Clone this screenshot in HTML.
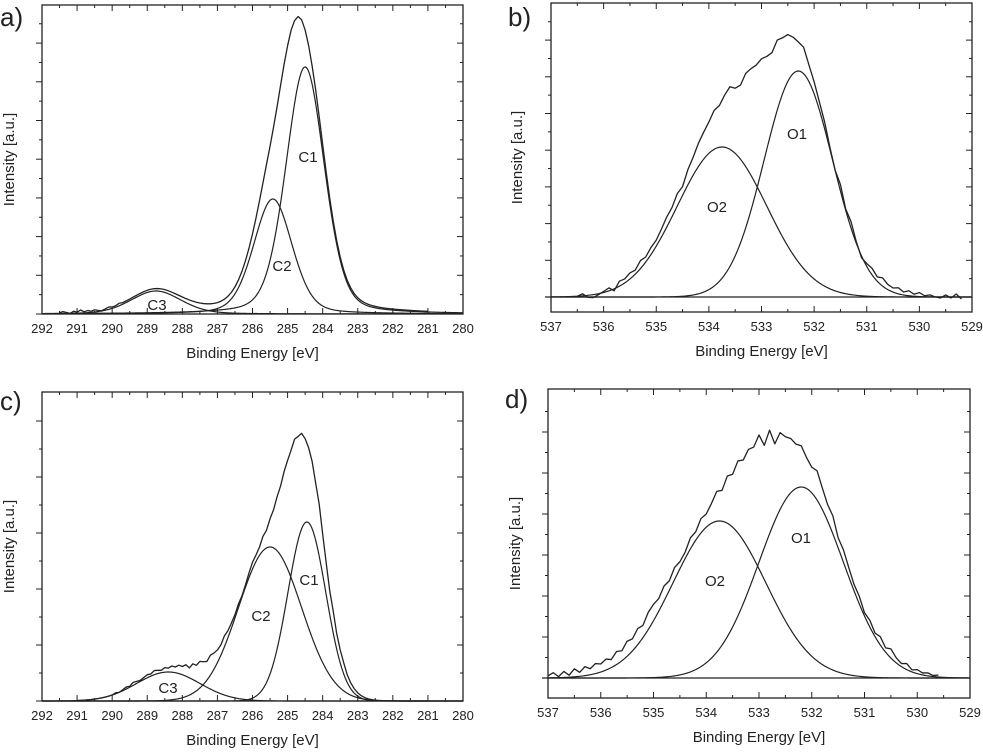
<!DOCTYPE html>
<html><head><meta charset="utf-8">
<style>
html,body{margin:0;padding:0;background:#fff;}
svg{display:block;font-family:"Liberation Sans",sans-serif;}
</style></head>
<body>
<svg id="fig" width="983" height="752" viewBox="0 0 983 752" xmlns="http://www.w3.org/2000/svg"></svg>
<script>
// ---- Panel a (C1s) ----
const aCenters = [284.5, 285.42, 288.75];
const aHeights = [247, 115, 23];
const aSigmas  = [0.55, 0.55, 0.72];
const aLabels  = ["C1","C2","C3"];
const aResid = [0,1,0,-1,1,0,2,0,1,0, 1,0,-1,0,1,0,0,1,0,0, 0,0,0,0,0,0,0,0,0,0,
  0,0,0,0,0,0,0,0,0,0, 0,0,0,0,0,0,0,0,0,0, 0,0,0,0,0,0,0,0,0,0,
  0,2,6,12,18,22,24,22,18,12, 6,2,0,0,0,0,0,0,0,0, 0,0,0,0,0,0,0,0,0,0,
  0,0,0,0,0,0,0,0,0,0, 0,0,0,0,0,0];
// ---- Panel b (O1s) ----
const bCenters = [532.3, 533.75];
const bHeights = [226, 150];
const bSigmas  = [0.65, 0.85];
const bLabels  = ["O1","O2"];
const bResid = [0,2,-2,-3,-1,1,3,-2,5,4, 6,4,8,5,7,6,8,10,9,12, 8,14,16,20,22,24,28,26,30,32,
  24,20,24,20,14,10,2,-4,0,-4, -4,-6,-6,-2,-6,-6,-6,-4,-6,-6, 2,-2,4,0,-3,2,6,4,8,5,
  4,6,3,5,2,4,1,2,0,-1, 2,-1,3,-2];
// ---- Panel c (C1s) ----
const cCenters = [284.45, 285.5, 288.4];
const cHeights = [179, 154, 29];
const cSigmas  = [0.54, 0.9, 0.9];
const cLabels  = ["C1","C2","C3"];
const cResid = [0,0,0,0,0,0,0,0,0,0, 0,1,0,1,2,1,3,2,1,2, 3,2,4,3,2,4,3,5,4,6,
  5,7,4,8,6,9,7,5,8,6, 4,3,5,2,1,0,1,-1,0,2, 3,1,0,2,-1,1,0,2,1,3,
  2,1,3,0,2,1,2,4,3,6, 2,0,-2,1,-1,0,1,0,0,0, 0,0,0,0,0,0,0,0,0,0, 0,0,0,0,0,0,0,0,0,0, 0];
// ---- Panel d (O1s) ----
const dCenters = [532.2, 533.75];
const dHeights = [191, 157];
const dSigmas  = [0.8, 0.88];
const dLabels  = ["O1","O2"];
const dResid = [2,5,1,6,2,8,4,9,6,10,8, 11,8,13,10,15,12,16,12,17,16, 12,14,8,10,4,2,5,0,3,-2,
  0,4,-2,6,2,10,6,12,10,18, 4,16,0,10,6,6,4,8,4,4, 12,8,6,10,4,8,6,4,6,2,
  6,3,8,4,9,5,3,6,2,4, 2,3,1,2];
// x tick labels
const cTicks = [292,291,290,289,288,287,286,285,284,283,282,281,280];
const oTicks = [537,536,535,534,533,532,531,530,529];

const NS="http://www.w3.org/2000/svg";
const svg=document.getElementById('fig');
function mk(tag,attrs,parent){const e=document.createElementNS(NS,tag);for(const k in attrs)e.setAttribute(k,attrs[k]);(parent||svg).appendChild(e);return e;}
function shape(dx,s,eta){
  const g=Math.exp(-dx*dx/(2*s*s));
  if(!eta) return g;
  const F=2.355*s; const l=1/(1+Math.pow(2*dx/F,2));
  return eta*l+(1-eta)*g;
}
function sumAt(e,p){let s=0;for(let i=0;i<p.cs.length;i++)s+=p.hs[i]*shape(e-p.cs[i],p.ss[i],p.eta);return s;}

function panel(p){
  const g=mk('g',{});
  
  
  const X=e=>p.x0+(p.xmin-e)/(p.xmin-p.xmax)*(p.x1-p.x0);
  const Y=v=>p.base-v;
  const fr=mk('rect',{x:p.x0,y:p.y0,width:p.x1-p.x0,height:p.y1-p.y0,fill:'none',stroke:'#222','stroke-width':1.3},g);
  
  
  for(let k=0;k<p.ticks.length;k++){
    const e=p.ticks[k], x=X(e);
    mk('line',{x1:x,x2:x,y1:p.y1,y2:p.y1-6,stroke:'#222'},g);
    mk('line',{x1:x,x2:x,y1:p.y0,y2:p.y0+6,stroke:'#222'},g);
    if(k<p.ticks.length-1){const xm=X(e-0.5);
      mk('line',{x1:xm,x2:xm,y1:p.y1,y2:p.y1-3,stroke:'#222'},g);
      mk('line',{x1:xm,x2:xm,y1:p.y0,y2:p.y0+3,stroke:'#222'},g);}
    const t=mk('text',{x:x,y:p.y1+19,'text-anchor':'middle','font-size':13,fill:'#222'},g);
    t.textContent=String(e);
    
    
  }
  for(let y=p.base, j=0; y>p.y0+2; y-=p.ystep/2, j++){
    const L=(j%2===0)?6:3;
    mk('line',{x1:p.x0,x2:p.x0-L,y1:y,y2:y,stroke:'#222'},g);
    mk('line',{x1:p.x1,x2:p.x1-L,y1:y,y2:y,stroke:'#222'},g);
  }
  for(let y=p.base+p.ystep/2, j=1; y<p.y1-1; y+=p.ystep/2, j++){
    const L=(j%2===0)?6:3;
    mk('line',{x1:p.x0,x2:p.x0-L,y1:y,y2:y,stroke:'#222'},g);
    mk('line',{x1:p.x1,x2:p.x1-L,y1:y,y2:y,stroke:'#222'},g);
  }
  if(p.zeroLine){const zl=mk('line',{x1:p.x0-6,x2:p.x1,y1:p.base,y2:p.base,stroke:'#222','stroke-width':1.2},g);
    }
  for(let i=0;i<p.cs.length;i++){
    let d='';
    for(let e=p.xmin; e>=p.xmax-1e-9; e-=0.02){d+=(d?'L':'M')+X(e).toFixed(2)+','+Y(p.hs[i]*shape(e-p.cs[i],p.ss[i],p.eta)).toFixed(2);}
    const c=mk('path',{d:d,fill:'none',stroke:'#222','stroke-width':1.2},g);
    
    
    const t=mk('text',{x:p.lx[i],y:p.ly[i],'text-anchor':'middle','font-size':15,fill:'#222'},g);
    t.textContent=p.labels[i];
    
    
  }
  let d='';
  const n=Math.round((p.eStart-p.eEnd)/0.1)+1;
  for(let k=0;k<n;k++){
    const e=p.eStart-0.1*k;
    const r=p.resid?(p.resid[k]||0):0;
    const v=sumAt(e,p)+r;
    d+=(d?'L':'M')+X(e).toFixed(2)+','+Y(v).toFixed(2);
  }
  const env=mk('path',{d:d,fill:'none',stroke:'#222','stroke-width':1.3,'stroke-linejoin':'round'},g);
  
  
  const pl=mk('text',{x:p.px,y:p.py,'font-size':26,fill:'#222'},g);
  pl.textContent=p.id+')';
  
  
  const xt=mk('text',{x:(p.x0+p.x1)/2,y:p.y1+44,'text-anchor':'middle','font-size':15,fill:'#222'},g);
  xt.textContent='Binding Energy [eV]';
  
  
  const yc=(p.y0+p.y1)/2;
  const yt=mk('text',{x:p.ytx,y:yc,'text-anchor':'middle','font-size':15,fill:'#222',transform:'rotate(-90 '+p.ytx+' '+yc+')'},g);
  yt.textContent='Intensity [a.u.]';
  
  
}

panel({id:'a',x0:42,x1:463,y0:5,y1:314,base:314,ystep:38.7,xmin:292,xmax:280,ticks:cTicks,eta:0.25,
  cs:aCenters,hs:aHeights,ss:aSigmas,labels:aLabels,lx:[308,282,157],ly:[162,271,310],
  eStart:291.5,eEnd:281,resid:aResid,px:0,py:26,ytx:14});
panel({id:'b',x0:551,x1:972,y0:3,y1:312,base:297,ystep:36.7,xmin:537,xmax:529,ticks:oTicks,eta:0,
  cs:bCenters,hs:bHeights,ss:bSigmas,labels:bLabels,lx:[797,717],ly:[139,212],
  eStart:536.5,eEnd:529.2,resid:bResid,px:508,py:26,ytx:522,zeroLine:true});
panel({id:'c',x0:42,x1:463,y0:392,y1:701,base:701,ystep:56,xmin:292,xmax:280,ticks:cTicks,eta:0,
  cs:cCenters,hs:cHeights,ss:cSigmas,labels:cLabels,lx:[309,261,168],ly:[585,621,693],
  eStart:291,eEnd:281,resid:cResid,px:0,py:410,ytx:14});
panel({id:'d',x0:548,x1:970,y0:389,y1:698,base:678,ystep:41,xmin:537,xmax:529,ticks:oTicks,eta:0,
  cs:dCenters,hs:dHeights,ss:dSigmas,labels:dLabels,lx:[801,715],ly:[543,586],
  eStart:537,eEnd:529.6,resid:dResid,px:505,py:408,ytx:520,zeroLine:true});
</script>
</body></html>
